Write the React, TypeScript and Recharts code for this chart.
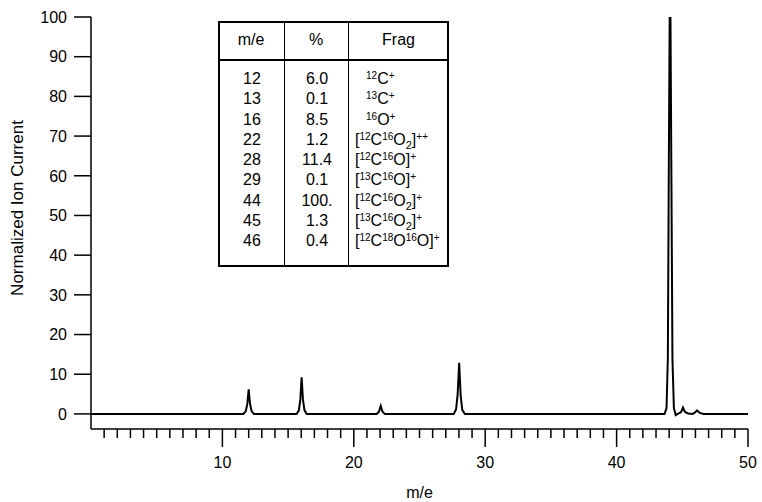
import { LineChart, Line, XAxis, YAxis } from 'recharts';

// ion current trace, [m/e, normalized current]
const baseStart = [[0, 0], [11.6, 0]];
const peak12 = [[11.78, 0.7], [11.9, 2.6], [12.0, 6.2], [12.1, 2.6], [12.22, 0.7], [12.4, 0]];
const peak16 = [[15.65, 0], [15.82, 0.9], [15.93, 3.6], [16.03, 9.2], [16.13, 3.6], [16.25, 0.9], [16.42, 0]];
const peak22 = [[21.75, 0], [21.92, 0.6], [22.05, 2.0], [22.18, 0.6], [22.35, 0]];
const peak28 = [[27.6, 0], [27.78, 1.1], [27.9, 4.8], [28.02, 12.9], [28.13, 4.8], [28.25, 1.1], [28.45, 0]];
const peak44 = [[43.65, 0], [43.8, 1.5], [43.9, 14], [43.97, 60], [44.04, 100], [44.1, 100], [44.17, 60], [44.25, 14], [44.36, 1.5], [44.5, -0.3]];
const peak45 = [[44.65, 0], [44.9, 0.4], [45.05, 1.6], [45.2, 0.5], [45.45, 0.1]];
const peak46 = [[45.8, 0], [45.98, 0.4], [46.12, 0.9], [46.3, 0.3], [46.6, 0]];
const baseEnd = [[50, 0]];

const spectrum = [...baseStart, ...peak12, ...peak16, ...peak22, ...peak28, ...peak44, ...peak45, ...peak46, ...baseEnd]
  .map(([mz, ic]) => ({ mz, ic }));

const xTicks = [1, 2, 3, 4, 5, 6, 7, 8, 9, 10, 11, 12, 13, 14, 15, 16, 17, 18, 19, 20, 21, 22, 23, 24, 25,
  26, 27, 28, 29, 30, 31, 32, 33, 34, 35, 36, 37, 38, 39, 40, 41, 42, 43, 44, 45, 46, 47, 48, 49, 50];
const xLabelled = [10, 20, 30, 40, 50];
const yTicks = [0, 10, 20, 30, 40, 50, 60, 70, 80, 90, 100];

// inset table
const tableHeaders = ['m/e', '%', 'Frag'];
const massValues = [12, 13, 16, 22, 28, 29, 44, 45, 46];
const percentLabels = ['6.0', '0.1', '8.5', '1.2', '11.4', '0.1', '100.', '1.3', '0.4'];
const fragmentLabels = ['^12C^+', '^13C^+', '^16O^+', '[^12C^16O_2]^++', '[^12C^16O]^+', '[^13C^16O]^+',
  '[^12C^16O_2]^+', '[^13C^16O_2]^+', '[^12C^18O^16O]^+'];

const FONT = '"Liberation Sans", Arial, Helvetica, sans-serif';

// "^12" -> superscript, "_2" -> subscript, rest plain
function Fragment({ text }: { text: string }) {
  const parts: JSX.Element[] = [];
  const re = /\^(\d+|\++)|_(\d+)|([^^_]+)/g;
  let m: RegExpExecArray | null;
  let k = 0;
  while ((m = re.exec(text))) {
    if (m[1]) parts.push(<span key={k++} style={{ fontSize: 10, position: 'relative', top: -5 }}>{m[1]}</span>);
    else if (m[2]) parts.push(<span key={k++} style={{ fontSize: 11, position: 'relative', top: 4 }}>{m[2]}</span>);
    else parts.push(<span key={k++}>{m[3]}</span>);
  }
  return <>{parts}</>;
}

function XTick(props: any) {
  const { x, y, payload } = props;
  const major = xLabelled.includes(payload.value);
  return (
    <g>
      <line x1={x} x2={x} y1={y} y2={y + (major ? 18 : 9)} stroke="#000" strokeWidth={1.5} />
      {major && (
        <text x={x} y={y + 39} textAnchor="middle" fontSize={16} fontFamily={FONT} fill="#000">
          {payload.value}
        </text>
      )}
    </g>
  );
}

function YTick(props: any) {
  const { x, y, payload } = props;
  return (
    <g>
      <line x1={x - 17} x2={payload.value === 0 ? x + 6 : x} y1={y} y2={y} stroke="#000" strokeWidth={1.5} />
      <text x={x - 24} y={y} dy="0.36em" textAnchor="end" fontSize={16} fontFamily={FONT} fill="#000">
        {payload.value}
      </text>
    </g>
  );
}

const colLeft = [0, 66, 130];
const colWidth = [66, 64, 101];

function IonTable() {
  return (
    <div
      style={{
        position: 'absolute', left: 218, top: 21, width: 231, height: 246, boxSizing: 'border-box',
        border: '2px solid #000', fontFamily: FONT, fontSize: 16, color: '#000',
      }}
    >
      <div style={{ position: 'absolute', left: 64, top: 0, bottom: 0, borderLeft: '1.5px solid #000' }} />
      <div style={{ position: 'absolute', left: 128, top: 0, bottom: 0, borderLeft: '1.5px solid #000' }} />
      <div style={{ position: 'absolute', left: 0, right: 0, top: 36, borderTop: '2.5px solid #000' }} />
      {tableHeaders.map((h, i) => (
        <div key={h} style={{ position: 'absolute', left: colLeft[i] - 2, width: colWidth[i], top: 8, textAlign: 'center', lineHeight: '18px' }}>
          {h}
        </div>
      ))}
      {massValues.map((mz, r) => (
        <div key={mz} style={{ position: 'absolute', left: 0, right: 0, top: 46 + r * 20.25, height: 20, lineHeight: '20px' }}>
          <div style={{ position: 'absolute', left: 0, width: 64, textAlign: 'center' }}>{mz}</div>
          <div style={{ position: 'absolute', left: 64, width: 66, textAlign: 'center' }}>{percentLabels[r]}</div>
          <div style={{ position: 'absolute', left: fragmentLabels[r].startsWith('[') ? 135 : 146, whiteSpace: 'nowrap' }}>
            <Fragment text={fragmentLabels[r]} />
          </div>
        </div>
      ))}
    </div>
  );
}

export default function App() {
  return (
    <div style={{ position: 'absolute', left: 0, top: 0, width: 762, height: 502, background: '#fff' }}>
      <LineChart width={762} height={502} data={spectrum} margin={{ top: 17, right: 14, left: 0, bottom: 0 }}>
        <XAxis
          dataKey="mz"
          type="number"
          domain={[0, 50]}
          ticks={xTicks}
          interval={0}
          height={73}
          tickSize={0}
          tickMargin={0}
          tickLine={false}
          tick={<XTick />}
          axisLine={{ stroke: '#000', strokeWidth: 1.5 }}
          label={{ value: 'm/e', position: 'insideBottom', offset: 4, fill: '#000', fontSize: 16, fontFamily: FONT }}
        />
        <YAxis
          type="number"
          domain={[-3.8, 100]}
          allowDataOverflow
          ticks={yTicks}
          interval={0}
          width={91}
          tickSize={0}
          tickMargin={0}
          tickLine={false}
          tick={<YTick />}
          axisLine={{ stroke: '#000', strokeWidth: 1.5 }}
        />
        <Line
          dataKey="ic"
          type="linear"
          stroke="#000"
          strokeWidth={2}
          dot={false}
          activeDot={false}
          isAnimationActive={false}
        />
      </LineChart>
      <div
        style={{
          position: 'absolute', left: 18, top: 208, transform: 'translate(-50%, -50%) rotate(-90deg)',
          whiteSpace: 'nowrap', fontFamily: FONT, fontSize: 17, color: '#000',
        }}
      >
        Normalized Ion Current
      </div>
      <IonTable />
    </div>
  );
}
